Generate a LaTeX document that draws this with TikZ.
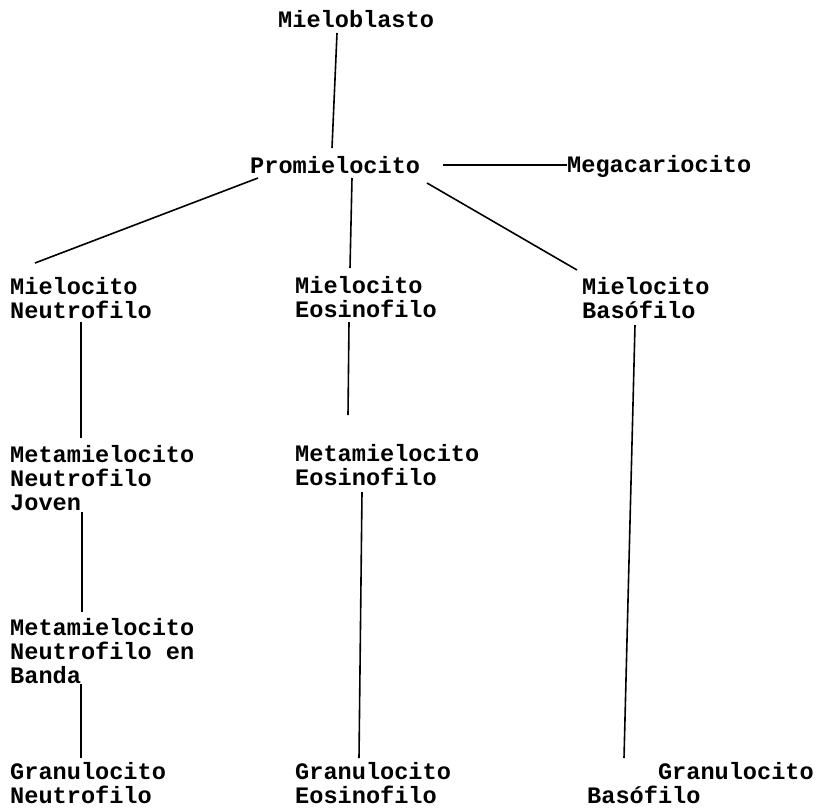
\documentclass[tikz,border=0pt]{standalone}
\usepackage{fontspec}
\setmonofont{Liberation Mono}
\usetikzlibrary{calc}
\tikzset{
  lbl/.style={anchor=base west, inner sep=0pt, align=left,
    font=\ttfamily\bfseries\fontsize{23.6}{23.8}\selectfont},
  conn/.style={line width=1.6pt}
}
\begin{document}
\begin{tikzpicture}[x=1pt,y=-1pt]
\useasboundingbox (0,0) rectangle (821,809);
% anchors: base west = baseline of the last line
\node[lbl] (mb) at (278,27) {Mieloblasto};
\node[lbl] (pro) at (250,173) {Promielocito};
\node[lbl] (mega) at (567,172) {Megacariocito};
\node[lbl] (mn) at (10,318) {Mielocito\\Neutrofilo};
\node[lbl] (me) at (295,317) {Mielocito\\Eosinofilo};
\node[lbl] (mbas) at (582,318) {Mielocito\\Basófilo};
\node[lbl] (mmj) at (10,510) {Metamielocito\\Neutrofilo\\Joven};
\node[lbl] (mme) at (295,485) {Metamielocito\\Eosinofilo};
\node[lbl] (mmb) at (10,683) {Metamielocito\\Neutrofilo en\\Banda};
\node[lbl] (gn) at (10,803) {Granulocito\\Neutrofilo};
\node[lbl] (ge) at (295,803) {Granulocito\\Eosinofilo};
\node[lbl] (gb) at (587,803) {\phantom{xxxxx}Granulocito\\Basófilo};

\draw[conn] ($(mb.base west)+(59,6)$) -- ($(pro.base west)+(82,-25)$);
\draw[conn] ($(pro.base west)+(193,-8)$) -- ($(mega.base west)+(0,-7)$);
\draw[conn] ($(pro.base west)+(8,5)$) -- ($(mn.base west)+(25,-55)$);
\draw[conn] ($(pro.base west)+(102,5)$) -- ($(me.base west)+(55,-49)$);
\draw[conn] ($(pro.base west)+(177,10)$) -- ($(mbas.base west)+(-5,-48)$);
\draw[conn] ($(mn.base west)+(71,4)$) -- ($(mmj.base west)+(71,-72)$);
\draw[conn] ($(mmj.base west)+(72,2)$) -- ($(mmb.base west)+(72,-71)$);
\draw[conn] ($(mmb.base west)+(71,1)$) -- ($(gn.base west)+(71,-45)$);
\draw[conn] ($(me.base west)+(54,5)$) -- ($(mme.base west)+(53,-70)$);
\draw[conn] ($(mme.base west)+(67,7)$) -- ($(ge.base west)+(64,-45)$);
\draw[conn] ($(mbas.base west)+(53,7)$) -- ($(gb.base west)+(37,-45)$);
\end{tikzpicture}
\end{document}
